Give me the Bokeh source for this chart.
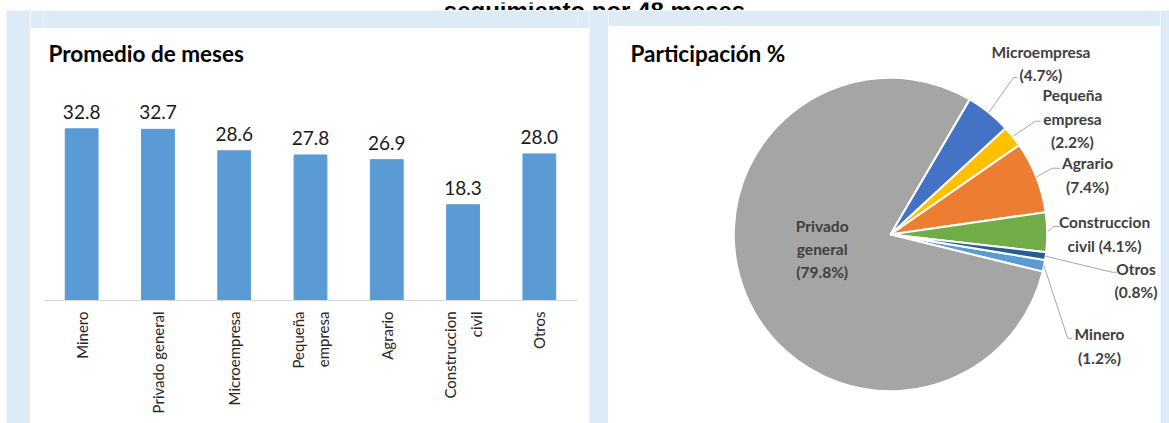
import math
from bokeh.plotting import figure
from bokeh.layouts import row, column
from bokeh.models import ColumnDataSource, FactorRange, Range1d, Span
from bokeh.core.properties import value
from bokeh.embed import file_html
from bokeh.resources import INLINE

# ---------------- data ----------------
categories = ["Minero", "Privado general", "Microempresa", "Pequeña empresa",
              "Agrario", "Construccion civil", "Otros"]
axis_labels = ["Minero", "Privado general", "Microempresa", "Pequeña\nempresa",
               "Agrario", "Construccion\ncivil", "Otros"]
avg_months = [32.8, 32.7, 28.6, 27.8, 26.9, 18.3, 28.0]
share_pct = [1.2, 79.8, 4.7, 2.2, 7.4, 4.1, 0.8]
pie_names = ["Minero", "Privado\ngeneral", "Microempresa", "Pequeña\nempresa",
             "Agrario", "Construccion\ncivil", "Otros"]
pie_pct_sep = ["\n", "\n", "\n", "\n", "\n", " ", "\n"]
pie_colors = ["#5B9BD5", "#A5A5A5", "#4472C4", "#FFC000", "#ED7D31", "#70AD47", "#255E91"]

page_title = "seguimiento por 48 meses"
bar_title = "Promedio de meses"
pie_title = "Participación %"

# ---------------- styles / layout ----------------
FONT = "Lato"
BLUE_BG = "#DDEBF7"
BAR_COLOR = "#5B9BD5"
FIRST_SLICE_DEG = -9.4          # boundary where the first slice begins (clockwise)
PX_PER_UNIT = 156.7             # pie radius in px
PX_PER_MONTH = 5.235            # bar chart vertical scale
# label block positions (data units of pie frame) and leader elbows
pie_label_pos = [(1.334, -0.712), (-0.436, -0.092), (0.960, 1.093), (1.161, 0.740),
                 (1.257, 0.380), (1.366, 0.004), (1.567, -0.295)]
leader_pts = [[(1.131, -0.662), (1.160, -0.662)], None,
              [(0.785, 1.002), (0.810, 1.002)], [(0.925, 0.723), (0.957, 0.723)],
              [(1.032, 0.423), (1.085, 0.423)], [(1.042, 0.051), (1.080, 0.051)],
              [(1.415, -0.241), (1.442, -0.241)]]


def blank(w, h, color):
    f = figure(width=w, height=h, output_backend="svg", toolbar_location=None,
               min_border=0, x_range=Range1d(0, 1), y_range=Range1d(0, 1))
    f.axis.visible = False
    f.grid.visible = False
    f.outline_line_color = None
    f.background_fill_color = color
    f.border_fill_color = color
    return f


# ---------------- top strip with (clipped) page title ----------------
top = figure(width=1169, height=10, x_range=Range1d(0, 1169), y_range=Range1d(0, 10),
             output_backend="svg", toolbar_location=None, min_border=0)
top.axis.visible = False
top.grid.visible = False
top.outline_line_color = None
top.background_fill_color = "white"
top.border_fill_color = "white"
top.text(x=[594], y=[2], text=[page_title], text_align="center",
         text_baseline="alphabetic", text_font=value("Liberation Sans"),
         text_font_style="bold", text_font_size="24px", text_color="#000000")

# ---------------- bar chart ----------------
BW, BH = 559, 395
B_BASE = 272                     # baseline inside the figure (px from top)
bar = figure(x_range=FactorRange(factors=categories, range_padding=0),
             y_range=Range1d(-(BH - B_BASE) / PX_PER_MONTH, B_BASE / PX_PER_MONTH),
             width=BW, height=BH, output_backend="svg", toolbar_location=None,
             min_border_left=13, min_border_right=12, min_border_top=0,
             min_border_bottom=0)
bsrc = ColumnDataSource(dict(cat=categories, val=avg_months,
                             lbl=[f"{v:.1f}" for v in avg_months],
                             name=axis_labels, zero=[0] * len(categories)))
bar.vbar(x="cat", top="val", width=0.43, source=bsrc, fill_color=BAR_COLOR,
         line_color=BAR_COLOR)
bar.text(x="cat", y="val", text="lbl", source=bsrc, text_align="center",
         text_baseline="middle", y_offset=-17, text_font=value(FONT),
         text_font_size="19px", text_color="#1a1a1a")
bar.add_layout(Span(location=0, dimension="width", line_color="#D9D9D9", line_width=1))
bar.text(x="cat", y="zero", text="name", source=bsrc, angle=math.pi / 2,
         text_align="right", text_baseline="middle", y_offset=11,
         text_font=value(FONT), text_font_size="15px", text_line_height=1.4,
         text_color="#262626")
# panel title (placed 25 px below the figure top, 18 px from its left)
bar.text(x=[categories[0]], y=[(B_BASE - 25) / PX_PER_MONTH], text=[bar_title],
         x_offset=18 - 13 - 534 / 14, text_align="left", text_baseline="middle",
         text_font=value(FONT), text_font_style="bold", text_font_size="22.5px",
         text_color="#000000")
bar.axis.visible = False
bar.xgrid.grid_line_color = None
bar.ygrid.grid_line_color = None
bar.outline_line_color = None
bar.background_fill_color = "white"
bar.border_fill_color = "white"

# ---------------- pie chart ----------------
PW, PH = 552, 397
cx_px, cy_px = 282, 208   # centre inside the figure (px from left / top)
pie = figure(width=PW, height=PH,
             x_range=Range1d(-cx_px / PX_PER_UNIT, (PW - cx_px) / PX_PER_UNIT),
             y_range=Range1d(-(PH - cy_px) / PX_PER_UNIT, cy_px / PX_PER_UNIT),
             output_backend="svg", toolbar_location=None, min_border=0)
pie.axis.visible = False
pie.grid.visible = False
pie.outline_line_color = None
pie.background_fill_color = "white"
pie.border_fill_color = "white"

total = sum(share_pct)
a = math.radians(FIRST_SLICE_DEG)
starts, ends, mids = [], [], []
for v in share_pct:
    sweep = v / total * 2 * math.pi
    ends.append(a)
    starts.append(a - sweep)
    mids.append(a - sweep / 2)
    a -= sweep
psrc = ColumnDataSource(dict(start=starts, end=ends, color=pie_colors))
pie.wedge(x=0, y=0, radius=1.0, start_angle="start", end_angle="end",
          fill_color="color", line_color="white", line_width=2, source=psrc)

xs, ys = [], []
for m, pts in zip(mids, leader_pts):
    if pts is None:
        continue
    xs.append([math.cos(m)] + [p[0] for p in pts])
    ys.append([math.sin(m)] + [p[1] for p in pts])
pie.multi_line(xs=xs, ys=ys, line_color="#A6A6A6", line_width=1)

pie_texts = [f"{n}{s}({p:.1f}%)" for n, s, p in zip(pie_names, pie_pct_sep, share_pct)]
pie.text(x=[p[0] for p in pie_label_pos], y=[p[1] for p in pie_label_pos],
         text=pie_texts, text_align="center", text_baseline="middle",
         text_font=value(FONT), text_font_style="bold", text_font_size="15.5px",
         text_line_height=1.3, text_color="#404040")
pie.text(x=[(22 - cx_px) / PX_PER_UNIT], y=[(cy_px - 27) / PX_PER_UNIT],
         text=[pie_title], text_align="left", text_baseline="middle",
         text_font=value(FONT), text_font_style="bold", text_font_size="22.5px",
         text_color="#000000")

RH = 413
layout = column(
    top,
    row(
        blank(6, RH, "white"),
        blank(24, RH, BLUE_BG),
        column(blank(BW, RH - BH, BLUE_BG), bar),
        blank(19, RH, BLUE_BG),
        column(blank(PW, RH - PH, BLUE_BG), pie),
        blank(9, RH, BLUE_BG),
    ),
)

open("out.html", "w").write(file_html(layout, INLINE))
